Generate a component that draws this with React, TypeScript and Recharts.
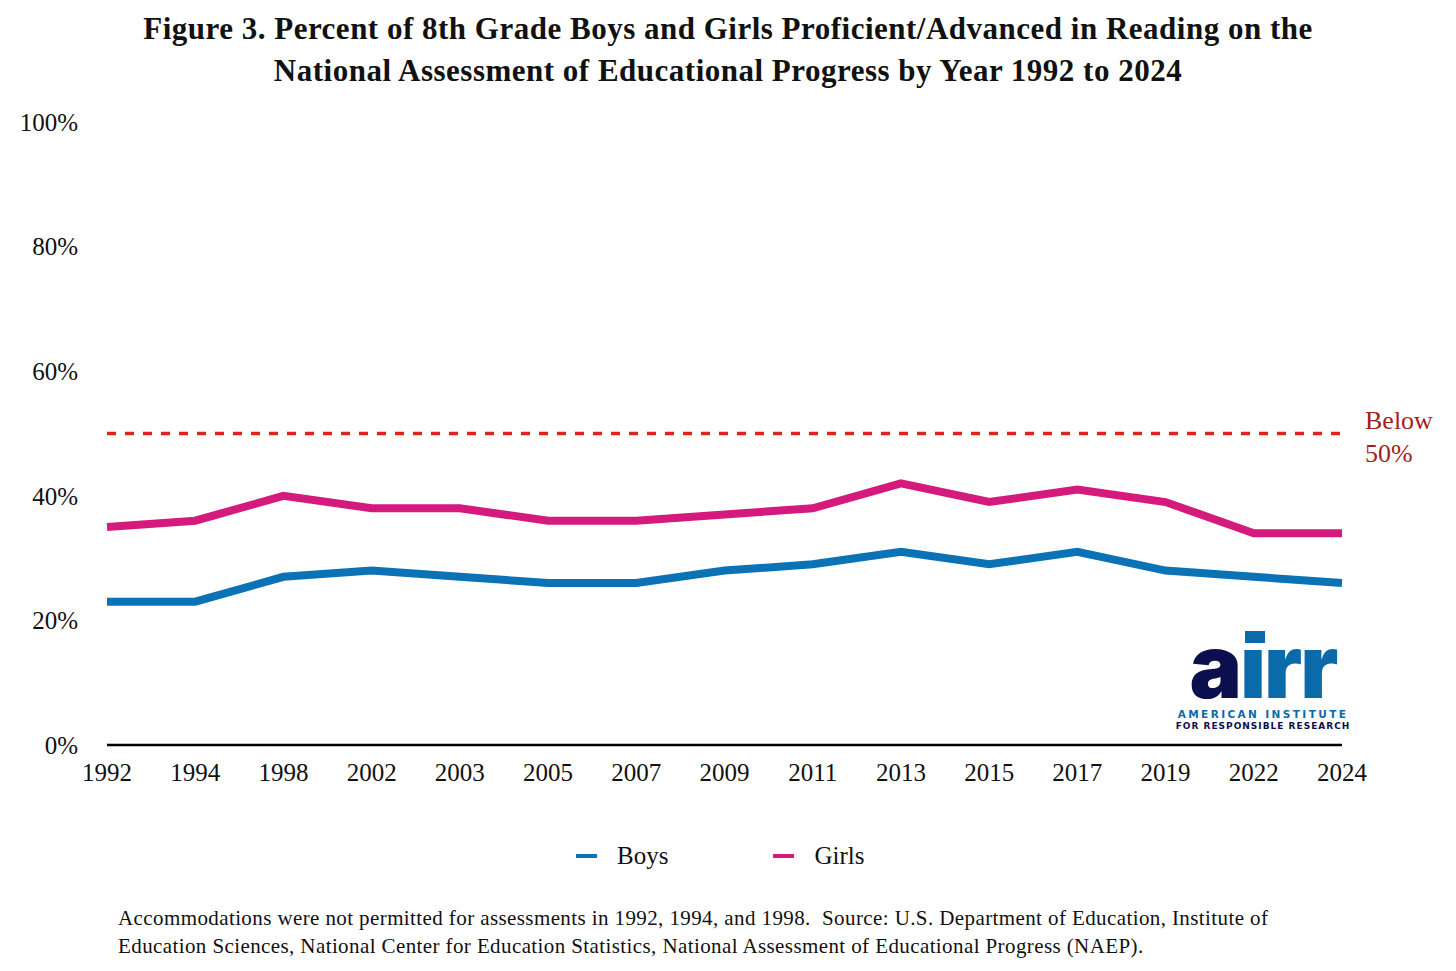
import React from "react";
import { LineChart, Line, XAxis, YAxis, ReferenceLine } from "recharts";

const years = ["1992", "1994", "1998", "2002", "2003", "2005", "2007", "2009", "2011", "2013", "2015", "2017", "2019", "2022", "2024"];
const boys = [23, 23, 27, 28, 27, 26, 26, 28, 29, 31, 29, 31, 28, 27, 26];
const girls = [35, 36, 40, 38, 38, 36, 36, 37, 38, 42, 39, 41, 39, 34, 34];
const yTicks = [0, 20, 40, 60, 80, 100];
const threshold = 50;

const series = [
  { key: "boys", name: "Boys", color: "#0b72b6" },
  { key: "girls", name: "Girls", color: "#d41a7d" },
];

const data = years.map((year, i) => ({ year, boys: boys[i], girls: girls[i] }));

const FONT = "'Liberation Serif', 'DejaVu Serif', serif";
const tickStyle = { fill: "#111", fontSize: 25, fontFamily: FONT };

function BelowLabel(props: any) {
  const { viewBox } = props;
  const x = viewBox.x + viewBox.width + 23;
  const y = viewBox.y;
  return (
    <text x={x} fill="#a51d1d" fontSize={26} fontFamily={FONT}>
      <tspan x={x} y={y - 5}>Below</tspan>
      <tspan x={x} y={y + 28}>50%</tspan>
    </text>
  );
}

export default function App() {
  return (
    <div style={{ position: "absolute", left: 0, top: 0, width: 1456, height: 971, background: "#fff", fontFamily: FONT, color: "#111" }}>
      <div style={{ position: "absolute", top: 8, left: 0, width: 1456, textAlign: "center", fontWeight: "bold", fontSize: 31, letterSpacing: 0.5, lineHeight: "42px" }}>
        Figure 3. Percent of 8th Grade Boys and Girls Proficient/Advanced in Reading on the
        <br />
        National Assessment of Educational Progress by Year 1992 to 2024
      </div>

      <div style={{ position: "absolute", left: 0, top: 0 }}>
        <LineChart width={1456} height={971} data={data} margin={{ top: 122, right: 114, bottom: 196, left: 47 }}>
          <XAxis
            dataKey="year"
            interval={0}
            tickLine={false}
            axisLine={{ stroke: "#000", strokeWidth: 2.5 }}
            tick={tickStyle}
            tickMargin={12}
          />
          <YAxis
            width={60}
            domain={[0, 100]}
            ticks={yTicks}
            tickFormatter={(v) => `${v}%`}
            axisLine={false}
            tickLine={false}
            tick={tickStyle}
            tickMargin={23}
          />
          <ReferenceLine
            y={threshold}
            stroke="#e0241d"
            strokeWidth={3.5}
            strokeDasharray="9 9"
            label={<BelowLabel />}
          />
          {series.map((s) => (
            <Line
              key={s.key}
              type="linear"
              dataKey={s.key}
              name={s.name}
              stroke={s.color}
              strokeWidth={8}
              dot={false}
              activeDot={false}
              isAnimationActive={false}
            />
          ))}
        </LineChart>
      </div>

      {/* legend */}
      <div style={{ position: "absolute", top: 842, left: 576, display: "flex", alignItems: "center", fontSize: 25 }}>
        {series.map((s, i) => (
          <div key={s.key} style={{ display: "flex", alignItems: "center", marginRight: i === 0 ? 105 : 0 }}>
            <span style={{ display: "inline-block", width: 21, height: 4, background: s.color, marginRight: 20 }} />
            <span>{s.name}</span>
          </div>
        ))}
      </div>

      {/* logo */}
      <div style={{ position: "absolute", left: 1170, top: 626, width: 186, height: 120, textAlign: "center" }}>
        <div style={{ position: "absolute", left: 0, top: 0, width: 186, height: 80, overflow: "visible", fontFamily: "Inter, 'DejaVu Sans', sans-serif", fontWeight: 900, fontSize: 88, lineHeight: "80px", letterSpacing: -2 }}>
          <span style={{ color: "#0c0f4d" }}>a</span>
          <span style={{ color: "#0b6aa9" }}>{"\u0131rr"}</span>
          <span style={{ position: "absolute", left: 75, top: 5, width: 20, height: 12, background: "#0b6aa9" }} />
        </div>
        <div style={{ position: "absolute", left: 0, top: 82, width: 186, fontFamily: "'DejaVu Sans', sans-serif", fontWeight: "bold", fontSize: 10.5, letterSpacing: 2.4, color: "#0b6aa9", lineHeight: "12px" }}>
          AMERICAN INSTITUTE
        </div>
        <div style={{ position: "absolute", left: 0, top: 94, width: 186, fontFamily: "'DejaVu Sans', sans-serif", fontWeight: "bold", fontSize: 9, letterSpacing: 1, color: "#0c0f4d", lineHeight: "12px" }}>
          FOR RESPONSIBLE RESEARCH
        </div>
      </div>

      {/* footnote */}
      <div style={{ position: "absolute", left: 118, top: 904, fontSize: 21, letterSpacing: 0.4, lineHeight: "28px", color: "#111" }}>
        Accommodations were not permitted for assessments in 1992, 1994, and 1998.&nbsp; Source: U.S. Department of Education, Institute of
        <br />
        Education Sciences, National Center for Education Statistics, National Assessment of Educational Progress (NAEP).
      </div>
    </div>
  );
}
